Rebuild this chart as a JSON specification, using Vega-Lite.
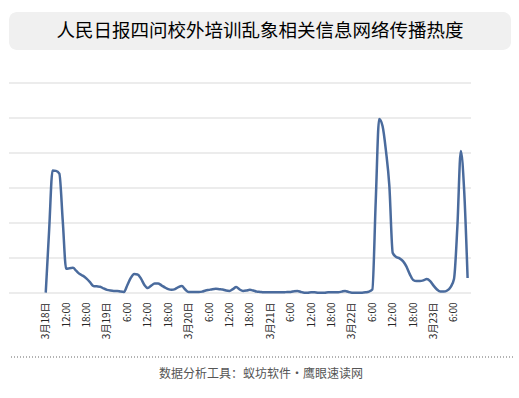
{
  "$schema": "https://vega.github.io/schema/vega-lite/v6.json",
  "padding": {"left": 8, "top": 12, "right": 7, "bottom": 8},
  "background": "white",
  "config": {"font": "Noto Sans CJK SC", "view": {"stroke": null}},
  "spacing": 32,
  "vconcat": [
    {
      "width": 502,
      "height": 38,
      "view": {"fill": "#f0f0f0", "stroke": null, "cornerRadius": 8},
      "data": {"values": [{"title": "人民日报四问校外培训乱象相关信息网络传播热度"}]},
      "mark": {"type": "text", "fontSize": 18.5, "color": "#000000", "font": "Noto Sans CJK SC"},
      "encoding": {"text": {"field": "title"}}
    },
    {
      "spacing": 17,
      "vconcat": [
        {
          "width": 462,
          "height": 210,
          "layer": [
            {
              "data": {"values": [
                {"level": 0}, {"level": 100}, {"level": 200}, {"level": 300},
                {"level": 400}, {"level": 500}, {"level": 600}
              ]},
              "mark": {"type": "rule", "color": "#d9d9d9", "strokeWidth": 1},
              "encoding": {
                "y": {"field": "level", "type": "quantitative", "axis": null}
              }
            },
            {
              "data": {"values": [
                {"time": "2021-03-18T06:00", "value": 1},
                {"time": "2021-03-18T07:00", "value": 180},
                {"time": "2021-03-18T08:00", "value": 350},
                {"time": "2021-03-18T09:00", "value": 349},
                {"time": "2021-03-18T10:00", "value": 341},
                {"time": "2021-03-18T11:00", "value": 206},
                {"time": "2021-03-18T12:00", "value": 69},
                {"time": "2021-03-18T13:00", "value": 71},
                {"time": "2021-03-18T14:00", "value": 72},
                {"time": "2021-03-18T15:00", "value": 63},
                {"time": "2021-03-18T16:00", "value": 54},
                {"time": "2021-03-18T17:00", "value": 49},
                {"time": "2021-03-18T18:00", "value": 41},
                {"time": "2021-03-18T19:00", "value": 31},
                {"time": "2021-03-18T20:00", "value": 20},
                {"time": "2021-03-18T21:00", "value": 19},
                {"time": "2021-03-18T22:00", "value": 18},
                {"time": "2021-03-18T23:00", "value": 13},
                {"time": "2021-03-19T00:00", "value": 9},
                {"time": "2021-03-19T01:00", "value": 7},
                {"time": "2021-03-19T02:00", "value": 6},
                {"time": "2021-03-19T03:00", "value": 6},
                {"time": "2021-03-19T04:00", "value": 4},
                {"time": "2021-03-19T05:00", "value": 3},
                {"time": "2021-03-19T06:00", "value": 23},
                {"time": "2021-03-19T07:00", "value": 43},
                {"time": "2021-03-19T08:00", "value": 54},
                {"time": "2021-03-19T09:00", "value": 53},
                {"time": "2021-03-19T10:00", "value": 41},
                {"time": "2021-03-19T11:00", "value": 23},
                {"time": "2021-03-19T12:00", "value": 14},
                {"time": "2021-03-19T13:00", "value": 21},
                {"time": "2021-03-19T14:00", "value": 27},
                {"time": "2021-03-19T15:00", "value": 27},
                {"time": "2021-03-19T16:00", "value": 22},
                {"time": "2021-03-19T17:00", "value": 16},
                {"time": "2021-03-19T18:00", "value": 11},
                {"time": "2021-03-19T19:00", "value": 9},
                {"time": "2021-03-19T20:00", "value": 11},
                {"time": "2021-03-19T21:00", "value": 17},
                {"time": "2021-03-19T22:00", "value": 20},
                {"time": "2021-03-19T23:00", "value": 10},
                {"time": "2021-03-20T00:00", "value": 3},
                {"time": "2021-03-20T01:00", "value": 3},
                {"time": "2021-03-20T02:00", "value": 3},
                {"time": "2021-03-20T03:00", "value": 3},
                {"time": "2021-03-20T04:00", "value": 4},
                {"time": "2021-03-20T05:00", "value": 7},
                {"time": "2021-03-20T06:00", "value": 9},
                {"time": "2021-03-20T07:00", "value": 11},
                {"time": "2021-03-20T08:00", "value": 12},
                {"time": "2021-03-20T09:00", "value": 11},
                {"time": "2021-03-20T10:00", "value": 10},
                {"time": "2021-03-20T11:00", "value": 7},
                {"time": "2021-03-20T12:00", "value": 6},
                {"time": "2021-03-20T13:00", "value": 11},
                {"time": "2021-03-20T14:00", "value": 17},
                {"time": "2021-03-20T15:00", "value": 10},
                {"time": "2021-03-20T16:00", "value": 6},
                {"time": "2021-03-20T17:00", "value": 7},
                {"time": "2021-03-20T18:00", "value": 9},
                {"time": "2021-03-20T19:00", "value": 7},
                {"time": "2021-03-20T20:00", "value": 4},
                {"time": "2021-03-20T21:00", "value": 3},
                {"time": "2021-03-20T22:00", "value": 2},
                {"time": "2021-03-20T23:00", "value": 2},
                {"time": "2021-03-21T00:00", "value": 2},
                {"time": "2021-03-21T01:00", "value": 2},
                {"time": "2021-03-21T02:00", "value": 2},
                {"time": "2021-03-21T03:00", "value": 2},
                {"time": "2021-03-21T04:00", "value": 2},
                {"time": "2021-03-21T05:00", "value": 3},
                {"time": "2021-03-21T06:00", "value": 3},
                {"time": "2021-03-21T07:00", "value": 5},
                {"time": "2021-03-21T08:00", "value": 6},
                {"time": "2021-03-21T09:00", "value": 3},
                {"time": "2021-03-21T10:00", "value": 1},
                {"time": "2021-03-21T11:00", "value": 1},
                {"time": "2021-03-21T12:00", "value": 2},
                {"time": "2021-03-21T13:00", "value": 2},
                {"time": "2021-03-21T14:00", "value": 1},
                {"time": "2021-03-21T15:00", "value": 1},
                {"time": "2021-03-21T16:00", "value": 1},
                {"time": "2021-03-21T17:00", "value": 2},
                {"time": "2021-03-21T18:00", "value": 2},
                {"time": "2021-03-21T19:00", "value": 2},
                {"time": "2021-03-21T20:00", "value": 2},
                {"time": "2021-03-21T21:00", "value": 4},
                {"time": "2021-03-21T22:00", "value": 6},
                {"time": "2021-03-21T23:00", "value": 3},
                {"time": "2021-03-22T00:00", "value": 1},
                {"time": "2021-03-22T01:00", "value": 1},
                {"time": "2021-03-22T02:00", "value": 1},
                {"time": "2021-03-22T03:00", "value": 1},
                {"time": "2021-03-22T04:00", "value": 2},
                {"time": "2021-03-22T05:00", "value": 4},
                {"time": "2021-03-22T06:00", "value": 10},
                {"time": "2021-03-22T07:00", "value": 263},
                {"time": "2021-03-22T08:00", "value": 497},
                {"time": "2021-03-22T09:00", "value": 477},
                {"time": "2021-03-22T10:00", "value": 406},
                {"time": "2021-03-22T11:00", "value": 306},
                {"time": "2021-03-22T12:00", "value": 114},
                {"time": "2021-03-22T13:00", "value": 103},
                {"time": "2021-03-22T14:00", "value": 99},
                {"time": "2021-03-22T15:00", "value": 91},
                {"time": "2021-03-22T16:00", "value": 76},
                {"time": "2021-03-22T17:00", "value": 54},
                {"time": "2021-03-22T18:00", "value": 37},
                {"time": "2021-03-22T19:00", "value": 34},
                {"time": "2021-03-22T20:00", "value": 34},
                {"time": "2021-03-22T21:00", "value": 36},
                {"time": "2021-03-22T22:00", "value": 40},
                {"time": "2021-03-22T23:00", "value": 34},
                {"time": "2021-03-23T00:00", "value": 21},
                {"time": "2021-03-23T01:00", "value": 10},
                {"time": "2021-03-23T02:00", "value": 4},
                {"time": "2021-03-23T03:00", "value": 4},
                {"time": "2021-03-23T04:00", "value": 7},
                {"time": "2021-03-23T05:00", "value": 17},
                {"time": "2021-03-23T06:00", "value": 40},
                {"time": "2021-03-23T07:00", "value": 191},
                {"time": "2021-03-23T08:00", "value": 406},
                {"time": "2021-03-23T09:00", "value": 291},
                {"time": "2021-03-23T10:00", "value": 43}
              ]},
              "mark": {"type": "line", "interpolate": "monotone", "color": "#4a6b9d", "strokeWidth": 2.5},
              "encoding": {
                "x": {
                  "field": "time",
                  "type": "temporal",
                  "scale": {
                    "domain": [
                      {"year": 2021, "month": 3, "date": 17, "hours": 19, "minutes": 12},
                      {"year": 2021, "month": 3, "date": 23, "hours": 11, "minutes": 0}
                    ],
                    "nice": false
                  },
                  "axis": {
                    "title": null,
                    "ticks": false,
                    "grid": false,
                    "domain": false,
                    "labelAngle": 270,
                    "labelFontSize": 10,
                    "labelColor": "#262626",
                    "labelPadding": 9,
                    "labelOverlap": false,
                    "values": [
                      {"year": 2021, "month": 3, "date": 18, "hours": 6},
                      {"year": 2021, "month": 3, "date": 18, "hours": 12},
                      {"year": 2021, "month": 3, "date": 18, "hours": 18},
                      {"year": 2021, "month": 3, "date": 19, "hours": 0},
                      {"year": 2021, "month": 3, "date": 19, "hours": 6},
                      {"year": 2021, "month": 3, "date": 19, "hours": 12},
                      {"year": 2021, "month": 3, "date": 19, "hours": 18},
                      {"year": 2021, "month": 3, "date": 20, "hours": 0},
                      {"year": 2021, "month": 3, "date": 20, "hours": 6},
                      {"year": 2021, "month": 3, "date": 20, "hours": 12},
                      {"year": 2021, "month": 3, "date": 20, "hours": 18},
                      {"year": 2021, "month": 3, "date": 21, "hours": 0},
                      {"year": 2021, "month": 3, "date": 21, "hours": 6},
                      {"year": 2021, "month": 3, "date": 21, "hours": 12},
                      {"year": 2021, "month": 3, "date": 21, "hours": 18},
                      {"year": 2021, "month": 3, "date": 22, "hours": 0},
                      {"year": 2021, "month": 3, "date": 22, "hours": 6},
                      {"year": 2021, "month": 3, "date": 22, "hours": 12},
                      {"year": 2021, "month": 3, "date": 22, "hours": 18},
                      {"year": 2021, "month": 3, "date": 23, "hours": 0},
                      {"year": 2021, "month": 3, "date": 23, "hours": 6}
                    ],
                    "labelExpr": "hours(datum.value) == 0 || (date(datum.value) == 18 && hours(datum.value) == 6) ? timeFormat(datum.value, '%-m月%-d日') : timeFormat(datum.value, '%-H:00')"
                  }
                },
                "y": {
                  "field": "value",
                  "type": "quantitative",
                  "scale": {"domain": [0, 600], "nice": false},
                  "axis": null
                }
              }
            }
          ]
        },
        {
          "width": 504,
          "height": 34,
          "data": {"values": [{"label": "数据分析工具：蚁坊软件・鹰眼速读网"}]},
          "layer": [
            {
              "mark": {"type": "rule", "strokeDash": [1, 2], "color": "#666666", "strokeWidth": 1},
              "encoding": {"y": {"datum": 1, "type": "quantitative", "scale": {"domain": [0, 1]}, "axis": null}}
            },
            {
              "mark": {"type": "text", "fontSize": 12, "color": "#555555", "font": "Noto Sans CJK SC"},
              "encoding": {"text": {"field": "label"}}
            }
          ]
        }
      ]
    }
  ]
}
